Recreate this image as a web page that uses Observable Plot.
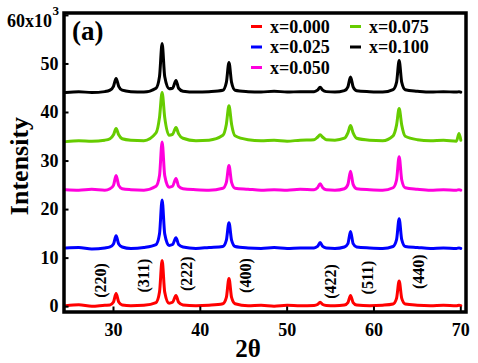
<!DOCTYPE html>
<html><head><meta charset="utf-8">
<script src="https://cdn.jsdelivr.net/npm/d3@7"></script>
<script src="https://cdn.jsdelivr.net/npm/@observablehq/plot@0.6"></script>
<style>body{margin:0;background:#fff}</style>
</head><body><div id="chart"></div>
<script>
// 2θ sample positions (shared by all series)
const twoTheta = [24.5,26,27.5,29, 29.6,30.0,30.3,30.6,31.0, 32,33.5, 34.9,35.3,35.6,35.9,36.4, 36.8,37.2,37.5,38.0, 39.5,41, 42.6,43.0,43.3,43.6,44.0, 45.5,47,48.5,50,51.5, 53.1,53.5,53.8,54.1,54.5, 55.5, 56.6,57.0,57.3,57.6,58.0, 59.5,61, 62.2,62.6,62.9,63.2,63.6, 65,66.5,68,69.5,69.8,70.0];

const seriesNames = ["x=0.000","x=0.025","x=0.050","x=0.075","x=0.100"];
const seriesColors = ["#ff0000","#0000ff","#ff00dd","#66cc00","#000000"];

const i000 = [0.2,0.4,0.1,0.3, 0.35,0.95,2.7,0.95,0.35, 0.2,0.3, 0.85,3.0,9.5,3.0,0.7, 0.9,2.3,0.9,0.35, 0.2,0.3, 0.6,1.9,5.8,1.9,0.6, 0.2,0.3,0.1,0.3,0.2, 0.25,0.45,0.9,0.45,0.25, 0.2, 0.35,0.85,2.3,0.85,0.35, 0.2,0.3, 0.55,1.7,5.3,1.7,0.55, 0.3,0.2,0.3,0.2,0.3,0.2];
const i025 = [12.1,12.2,11.9,12.1, 12.3,12.9,14.6,12.9,12.3, 12.0,12.2, 12.8,15.0,22.0,15.0,12.6, 12.8,14.2,12.8,12.3, 12.0,12.2, 12.4,13.7,17.3,13.7,12.4, 12.1,12.0,12.2,12.0,12.1, 12.1,12.4,13.2,12.4,12.1, 12.0, 12.3,13.0,15.5,13.0,12.3, 12.1,12.0, 12.4,13.8,18.1,13.8,12.4, 12.2,12.0,12.1,12.0,12.1,12.0];
const i050 = [24.1,24.0,24.2,24.0, 24.3,25.0,27.0,25.0,24.3, 24.1,24.0, 24.8,27.0,33.9,27.0,24.6, 24.8,26.4,24.8,24.3, 24.1,24.0, 24.4,25.6,29.1,25.6,24.4, 24.2,24.0,24.1,24.0,24.2, 24.1,24.5,25.3,24.5,24.1, 24.0, 24.3,25.2,27.9,25.2,24.3, 24.1,24.0, 24.5,26.1,30.9,26.1,24.5, 24.2,24.0,24.1,24.0,24.1,24.0];
const i075 = [34.0,34.2,34.1,34.3, 34.6,35.4,36.7,35.4,34.6, 34.3,34.2, 35.8,39.0,44.1,39.0,35.3, 35.5,36.9,35.6,34.7, 34.2,34.3, 35.3,37.6,41.4,37.6,35.2, 34.4,34.2,34.3,34.1,34.3, 34.4,34.9,35.4,34.9,34.4, 34.3, 34.7,35.8,37.3,35.8,34.7, 34.3,34.2, 35.2,37.4,40.8,37.4,35.1, 34.4,34.2,34.3,34.1,35.7,34.3];
const i100 = [44.1,44.3,44.1,44.3, 44.6,45.4,47.0,45.4,44.6, 44.3,44.2, 45.0,47.4,54.2,47.4,44.9, 45.0,46.6,45.0,44.4, 44.2,44.3, 44.6,46.2,50.3,46.2,44.6, 44.3,44.2,44.4,44.2,44.3, 44.3,44.6,45.2,44.6,44.3, 44.2, 44.5,45.3,47.3,45.3,44.5, 44.3,44.2, 44.7,46.2,50.7,46.2,44.7, 44.4,44.2,44.3,44.2,44.3,44.2];

const xTicks = [30,40,50,60,70];
const yTicks = [0,10,20,30,40,50,60];

const hklLabels = ["(220)","(311)","(222)","(400)","(422)","(511)","(440)"];
const hklX = [28.5,33.5,38.5,45.3,55.0,59.3,65.2];
const hklY = [5.4,6.4,6.8,6.4,5.2,6.0,7.2];

const seriesValues = [i000,i025,i050,i075,i100];
const rows = seriesNames.flatMap((name,k) => twoTheta.map((t,j) => ({series:name, t, v:seriesValues[k][j]})));
const peaks = hklLabels.map((l,i) => ({l, x:hklX[i], y:hklY[i]}));
const FONT = '"Liberation Serif","Times New Roman",serif';

const chart = Plot.plot({
  width:478, height:363,
  marginLeft:63.5, marginRight:12.5, marginTop:12.5, marginBottom:51.5,
  style:{fontFamily:FONT, fontWeight:"bold", color:"#000", background:"#fff"},
  x:{domain:[24.3,70.6]},
  y:{domain:[-1.1,60.5]},
  color:{domain:seriesNames, range:seriesColors},
  marks:[
    Plot.line(rows,{x:"t", y:"v", z:"series", stroke:"series", strokeWidth:3, curve:"monotone-x"}),
    Plot.text(peaks,{x:"x", y:"y", text:"l", rotate:-90, fontSize:16, fill:"#000"}),
    Plot.axisX({ticks:xTicks, tickSize:-5, tickPadding:16.7, fontSize:18, label:null, strokeWidth:2}),
    Plot.axisY({ticks:yTicks, tickSize:-5, tickPadding:10.5, fontSize:18, label:null, strokeWidth:2, tickFormat:d => d === 60 ? "" : d}),
    Plot.frame({stroke:"#000", strokeWidth:3.5})
  ]
});
document.getElementById("chart").appendChild(chart);

const svg = d3.select(chart);
const g = svg.append("g").attr("font-family",FONT).attr("font-weight","bold").attr("fill","#000").attr("text-anchor","start");
// legend
seriesNames.forEach((n,i) => {
  const col = Math.floor(i/3), row = i%3;
  const gx = 251 + col*99, gy = 26.5 + row*20.5;
  g.append("line").attr("x1",gx).attr("x2",gx+11).attr("y1",gy).attr("y2",gy)
    .attr("stroke",seriesColors[i]).attr("stroke-width",3);
  g.append("text").attr("x",gx+19).attr("y",gy).attr("dy","0.35em").attr("font-size",18).text(n);
});
// panel tag
g.append("text").attr("x",72).attr("y",40).attr("font-size",27).text("(a)");
// top y label
g.append("text").attr("x",52).attr("y",27).attr("text-anchor","end").attr("font-size",18).text("60x10");
g.append("text").attr("x",52.5).attr("y",15).attr("font-size",13).text("3");
// axis titles
g.append("text").attr("transform","translate(28,166) rotate(-90)").attr("text-anchor","middle").attr("font-size",26).text("Intensity");
g.append("text").attr("x",248).attr("y",357).attr("text-anchor","middle").attr("font-size",25).text("2θ");
</script>
</body></html>
